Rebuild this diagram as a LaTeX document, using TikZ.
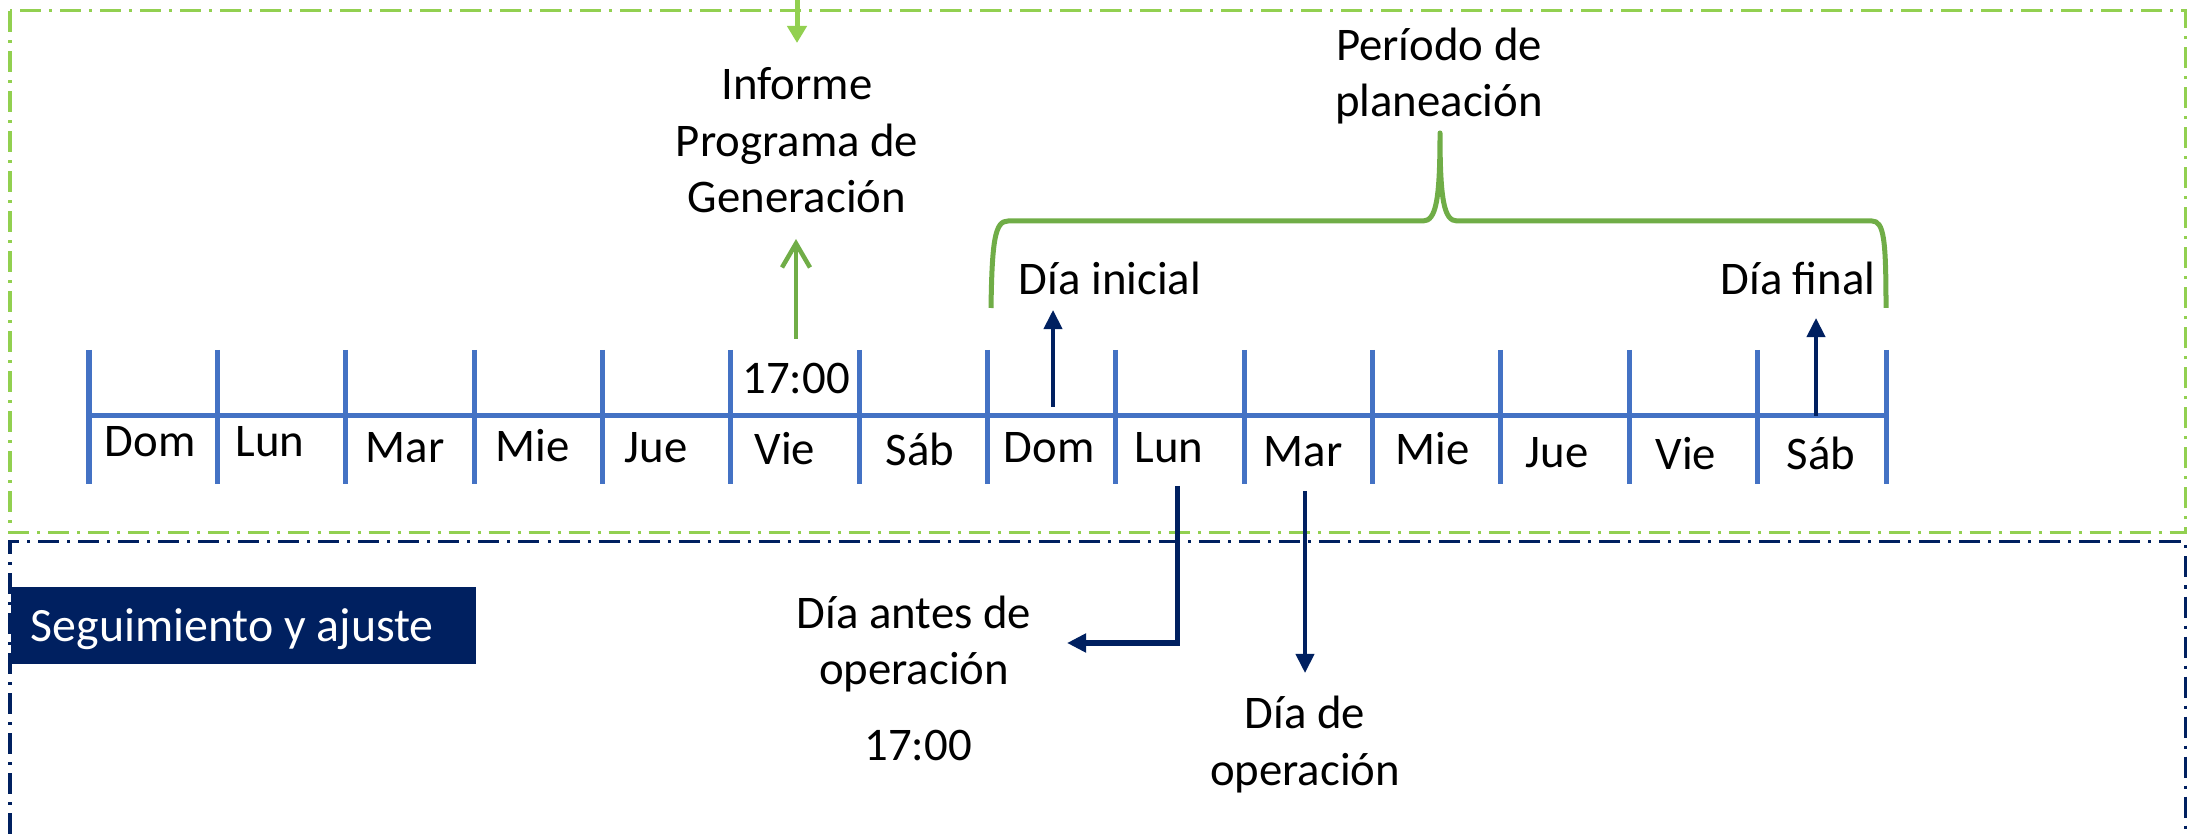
\documentclass[tikz,border=0pt]{standalone}
\usepackage{fontspec}
\setmainfont{Carlito}
\usetikzlibrary{arrows.meta}
\definecolor{lgreen}{HTML}{92D050}
\definecolor{dgreen}{HTML}{70AD47}
\definecolor{tblue}{HTML}{4472C4}
\definecolor{navy}{HTML}{002060}
\begin{document}
\begin{tikzpicture}[x=0.01cm,y=-0.01cm,
  lbl/.style={inner sep=0pt, font=\fontsize{13.3pt}{16.2pt}\selectfont, align=center},
  daylbl/.style={inner sep=0pt, font=\fontsize{13.3pt}{16.2pt}\selectfont, anchor=base west},
  dashdotbox/.style={line width=0.03cm, dash pattern=on 0.21cm off 0.08cm on 0.03cm off 0.08cm},
  tl/.style={tblue, line width=0.05cm},
  navyarrow/.style={navy, line width=0.04cm, -{Triangle[length=0.19cm,width=0.18cm]}},
]
\useasboundingbox (0,0) rectangle (2197,834);
% frames
\draw[lgreen, dashdotbox] (10,11) rectangle (2185,533);
\draw[navy, dashdotbox] (10,834) -- (10,542) -- (2185,542) -- (2185,834);
% timeline
\draw[tl] (89,416) -- (1886,416);
\foreach \i in {0,...,14} \draw[tl] (89+\i*128.36,350) -- ++(0,134);
% day labels
\node[daylbl] (d1) at (104,457) {Dom};
\node[daylbl] (d2) at (235,457) {Lun};
\node[daylbl] (d3) at (365,463) {Mar};
\node[daylbl] (d4) at (495,462) {Mie};
\node[daylbl] (d5) at (624,463) {Jue};
\node[daylbl] (d6) at (754,465) {Vie};
\node[daylbl] (d7) at (885,466) {Sáb};
\node[daylbl] (d8) at (1003,463) {Dom};
\node[daylbl] (d9) at (1134,463) {Lun};
\node[daylbl] (d10) at (1263,467) {Mar};
\node[daylbl] (d11) at (1395,465) {Mie};
\node[daylbl] (d12) at (1525,468) {Jue};
\node[daylbl] (d13) at (1655,470) {Vie};
\node[daylbl] (d14) at (1786,470) {Sáb};
% top part
\node[lbl, anchor=base] (t17) at (796,394) {17:00};
\node[lbl, anchor=base] (inf) at (797,213) {Informe\\Programa de\\Generación};
\coordinate (topin) at (797,0);
\coordinate (topout) at (797,43);
\draw[lgreen, line width=0.05cm, -{Triangle[length=0.17cm,width=0.19cm]}] (topin) -- (topout);
\coordinate (ga) at (796,339);
\coordinate (gb) at (796,239);
\draw[dgreen, line width=0.045cm, -{Straight Barb[length=0.24cm,width=0.28cm,line width=0.045cm]}] (ga) -- (gb);
% brace
\draw[dgreen, line width=0.05cm, line join=round]
  (991,308) .. controls (992,240) and (995,221) .. (1008,221) -- (1423,221)
  .. controls (1436,221) and (1440,200) .. (1440,133)
  .. controls (1440,200) and (1444,221) .. (1457,221) -- (1872,221)
  .. controls (1884,221) and (1886,240) .. (1886,308);
\node[lbl, anchor=base] (per) at (1439,117) {Período de\\planeación};
\node[lbl, anchor=base] (dini) at (1110,295) {Día inicial};
\node[lbl, anchor=base] (dfin) at (1798,295) {Día final};
\coordinate (ia) at (1053,407);
\coordinate (ib) at (1053,310);
\draw[navyarrow] (ia) -- (ib);
\coordinate (fa) at (1816,416);
\coordinate (fb) at (1816,318);
\draw[navyarrow] (fa) -- (fb);
% bottom part
\node[anchor=north west, fill=navy, text=white, inner ysep=0pt, inner xsep=0.2cm,
      minimum height=0.77cm, text width=4.25cm, align=flush left, text height=0.32cm, text depth=0cm,
      font=\fontsize{13.6pt}{16.2pt}\selectfont] (seg) at (10,586) {Seguimiento y ajuste};
\node[lbl, anchor=base] (dant) at (914,685) {Día antes de\\operación};
\node[lbl, anchor=base] (b17) at (918,761) {17:00};
\node[lbl, anchor=base] (dop) at (1305,785) {Día de\\operación};
\coordinate (aa) at (1177,486);
\coordinate (ab) at (1067,643);
\draw[navyarrow, line width=0.05cm] (aa) |- (ab);
\coordinate (oa) at (1305,491);
\coordinate (ob) at (1305,673);
\draw[navyarrow] (oa) -- (ob);
\end{tikzpicture}
\end{document}
